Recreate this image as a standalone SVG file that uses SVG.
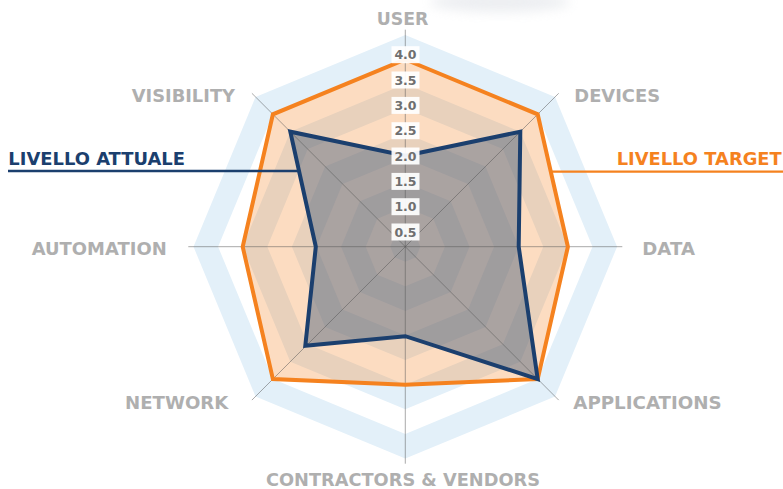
<svg xmlns="http://www.w3.org/2000/svg" xmlns:xlink="http://www.w3.org/1999/xlink" width="783" height="489" viewBox="0 0 783 489">
<style>
.band-lb{fill:#e3f0f9}
.band-w{fill:#ffffff}
.spoke{stroke:#555;stroke-opacity:0.5;stroke-width:1;fill:none}
.axis-lbl{font-family:"DejaVu Sans","Liberation Sans",sans-serif;font-weight:bold;font-size:17.5px;fill:#afafaf}
.legend{font-family:"DejaVu Sans","Liberation Sans",sans-serif;font-weight:bold;font-size:18px}
.val-box{fill:#ffffff;fill-opacity:0.93}
.val-txt{font-family:"DejaVu Sans","Liberation Sans",sans-serif;font-weight:bold;font-size:12.5px;fill:#6f6f6f;text-anchor:middle}
</style>
<defs>
<polygon id="oct" points="0,-1 0.70711,-0.70711 1,0 0.70711,0.70711 0,1 -0.70711,0.70711 -1,0 -0.70711,-0.70711"/>
<filter id="blur" x="-50%" y="-100%" width="200%" height="300%"><feGaussianBlur stdDeviation="6"/></filter>
</defs>
<rect width="783" height="489" fill="#ffffff"/>
<ellipse cx="500" cy="2" rx="70" ry="10" fill="#d5d9e0" opacity="0.45" filter="url(#blur)"/>

<g id="grid" transform="translate(405.3,246.7)">
<use xlink:href="#oct" class="band-lb" transform="scale(211.8)"/>
<use xlink:href="#oct" class="band-w" transform="scale(187.2)"/>
<use xlink:href="#oct" class="band-lb" transform="scale(162.6)"/>
<use xlink:href="#oct" class="band-w" transform="scale(138)"/>
<use xlink:href="#oct" class="band-lb" transform="scale(113.4)"/>
<use xlink:href="#oct" class="band-w" transform="scale(88.8)"/>
<use xlink:href="#oct" class="band-lb" transform="scale(64.2)"/>
<use xlink:href="#oct" class="band-w" transform="scale(39.6)"/>
<use xlink:href="#oct" class="band-lb" transform="scale(15)"/>
</g>

<g id="target-fill" transform="translate(405.3,246.7)">
<polygon points="0,-187.2 132.4,-132.4 162.6,0 132.4,132.4 0,138 -132.4,132.4 -162.6,0 -132.4,-132.4" fill="#f5821f" fill-opacity="0.28"/>
</g>
<g id="current-fill" transform="translate(405.3,246.7)">
<polygon points="0,-91 115,-115 113.4,0 132.4,132.4 0,89.5 -100,99 -89.5,0 -115,-115" fill="#485d7b" fill-opacity="0.45"/>
</g>

<g id="spokes" transform="translate(405.3,246.7)">
<line class="spoke" x1="0" y1="0" x2="0" y2="-217"/>
<line class="spoke" x1="0" y1="0" x2="153.4" y2="-153.4"/>
<line class="spoke" x1="0" y1="0" x2="217" y2="0" stroke-width="1.8"/>
<line class="spoke" x1="0" y1="0" x2="153.4" y2="153.4"/>
<line class="spoke" x1="0" y1="0" x2="0" y2="217"/>
<line class="spoke" x1="0" y1="0" x2="-153.4" y2="153.4"/>
<line class="spoke" x1="0" y1="0" x2="-217" y2="0" stroke-width="1.8"/>
<line class="spoke" x1="0" y1="0" x2="-153.4" y2="-153.4"/>
</g>

<g id="target-line" transform="translate(405.3,246.7)">
<polygon points="0,-187.2 132.4,-132.4 162.6,0 132.4,132.4 0,138 -132.4,132.4 -162.6,0 -132.4,-132.4" fill="none" stroke="#f5821f" stroke-width="4" stroke-linejoin="miter"/>
</g>
<g id="current-line" transform="translate(405.3,246.7)">
<polygon points="0,-91 115,-115 113.4,0 132.4,132.4 0,89.5 -100,99 -89.5,0 -115,-115" fill="none" stroke="#1b3f6e" stroke-width="4" stroke-linejoin="miter"/>
</g>

<g id="scale-labels">
<rect class="val-box" x="391.5" y="46.2" width="28" height="17"/><text class="val-txt" x="405.5" y="59.2">4.0</text>
<rect class="val-box" x="391.5" y="71.5" width="28" height="17"/><text class="val-txt" x="405.5" y="84.5">3.5</text>
<rect class="val-box" x="391.5" y="96.9" width="28" height="17"/><text class="val-txt" x="405.5" y="109.9">3.0</text>
<rect class="val-box" x="391.5" y="122.2" width="28" height="17"/><text class="val-txt" x="405.5" y="135.2">2.5</text>
<rect class="val-box" x="391.5" y="147.5" width="28" height="17"/><text class="val-txt" x="405.5" y="160.5">2.0</text>
<rect class="val-box" x="391.5" y="172.9" width="28" height="17"/><text class="val-txt" x="405.5" y="185.9">1.5</text>
<rect class="val-box" x="391.5" y="198.2" width="28" height="17"/><text class="val-txt" x="405.5" y="211.2">1.0</text>
<rect class="val-box" x="391.5" y="223.5" width="28" height="17"/><text class="val-txt" x="405.5" y="236.5">0.5</text>
</g>

<g id="connectors">
<line x1="8" y1="171" x2="298" y2="171" stroke="#1b3f6e" stroke-width="2.7"/>
<line x1="551" y1="171.7" x2="783" y2="171.7" stroke="#f5821f" stroke-width="2.2"/>
</g>

<g id="legend-current"><text class="legend" x="8.3" y="165" fill="#1b3f6e" textLength="176.7" lengthAdjust="spacingAndGlyphs">LIVELLO ATTUALE</text></g>
<g id="legend-target"><text class="legend" x="616.7" y="165" fill="#f5821f" textLength="165" lengthAdjust="spacingAndGlyphs">LIVELLO TARGET</text></g>

<g id="axis-user"><text class="axis-lbl" x="376.7" y="25" textLength="51.7" lengthAdjust="spacingAndGlyphs">USER</text></g>
<g id="axis-devices"><text class="axis-lbl" x="574.3" y="101.7" textLength="85.7" lengthAdjust="spacingAndGlyphs">DEVICES</text></g>
<g id="axis-data"><text class="axis-lbl" x="642.3" y="255" textLength="52.7" lengthAdjust="spacingAndGlyphs">DATA</text></g>
<g id="axis-applications"><text class="axis-lbl" x="573.3" y="409.3" textLength="148.4" lengthAdjust="spacingAndGlyphs">APPLICATIONS</text></g>
<g id="axis-contractors"><text class="axis-lbl" x="266" y="485.5" textLength="274" lengthAdjust="spacingAndGlyphs">CONTRACTORS &amp; VENDORS</text></g>
<g id="axis-network"><text class="axis-lbl" x="125" y="409.3" textLength="103.3" lengthAdjust="spacingAndGlyphs">NETWORK</text></g>
<g id="axis-automation"><text class="axis-lbl" x="31.7" y="255" textLength="135" lengthAdjust="spacingAndGlyphs">AUTOMATION</text></g>
<g id="axis-visibility"><text class="axis-lbl" x="131.7" y="101.7" textLength="103.3" lengthAdjust="spacingAndGlyphs">VISIBILITY</text></g>
</svg>
